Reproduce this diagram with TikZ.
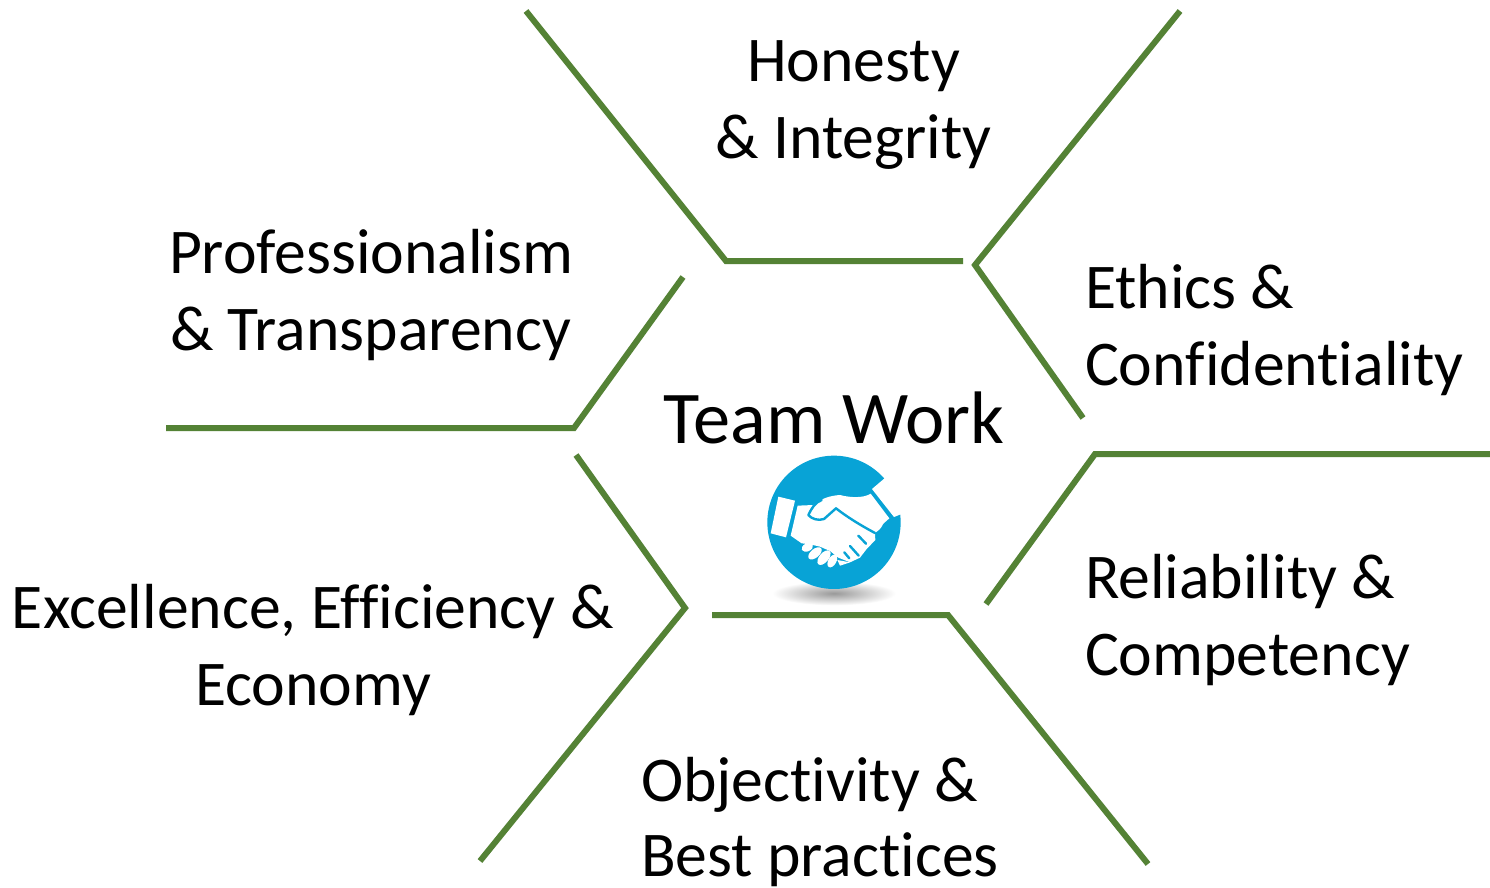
\documentclass[tikz,border=0pt]{standalone}
\usepackage{fontspec}
\setmainfont[Ligatures=NoCommon]{Carlito}
\definecolor{linegreen}{HTML}{548235}
\definecolor{iconblue}{HTML}{08A3D6}
\tikzset{
  spoke/.style={draw=linegreen,line width=6pt,line join=miter},
  lbl/.style={inner sep=0pt,outer sep=0pt,text=black,font=\fontsize{63.7}{77}\selectfont},
  title/.style={inner sep=0pt,outer sep=0pt,text=black,font=\fontsize{74.4}{88}\selectfont},
  handwhite/.style={fill=white,draw=none},
  handline/.style={draw=iconblue,line width=2.4pt,line cap=round,line join=round}
}
\begin{document}
\begin{tikzpicture}[x=1pt,y=-1pt]
\useasboundingbox (0,0) rectangle (1490,887);
\fill[white] (0,0) rectangle (1490,887);
% spokes
\draw[spoke] (526,11) -- (726,261) -- (963,261);
\draw[spoke] (1180,11) -- (975,265) -- (1083,418);
\draw[spoke] (683,277) -- (574,428) -- (166,428);
\draw[spoke] (1490,454) -- (1095,454) -- (986,604);
\draw[spoke] (576,455) -- (685,608) -- (480,861);
\draw[spoke] (712,615) -- (948,615) -- (1148,864);
% labels
\node[lbl,anchor=base] (honesty) at (853.5,81) {Honesty};
\node[lbl,anchor=base] (integrity) at (853.5,158) {\& Integrity};
\node[lbl,anchor=base west] (prof) at (169,273) {Professionalism};
\node[lbl,anchor=base west] (transp) at (170,350) {\& Transparency};
\node[lbl,anchor=base west] (ethics) at (1085,308) {Ethics \&};
\node[lbl,anchor=base west] (conf) at (1085,385) {Confidentiality};
\node[lbl,anchor=base west] (reli) at (1085,598) {Reliability \&};
\node[lbl,anchor=base west] (comp) at (1085,675) {Competency};
\node[lbl,anchor=base west] (obj) at (641,801) {Objectivity \&};
\node[lbl,anchor=base west] (best) at (641,876) {Best practices};
\node[lbl,anchor=base west] (exc) at (12,628) {Excellence, Efficiency \&};
\node[lbl,anchor=base] (econ) at (313,705) {Economy};
\node[title,anchor=base] (team) at (834,443) {Team Work};
% icon
\begin{scope}[shift={(750,445)},x=0.3333pt,y=-0.3333pt]
  \shade[inner color=black!40,outer color=white] (252,445) ellipse (185 and 36);
  \fill[iconblue] (252,232) circle (200);
  % top-right cut behind the cuff
  \fill[white] (366,132) -- (406,98) -- (460,98) -- (460,205) -- (432,216) -- cycle;
  % left cuff
  \fill[handwhite] (85,155) -- (135,167) -- (108,277) -- (62,265) -- cycle;
  % hand
  \fill[handwhite] (143,182) -- (190,180) .. controls (215,160) and (240,152) .. (270,150)
    .. controls (300,158) and (340,160) .. (362,146) -- (418,220) -- (400,236)
    .. controls (392,252) and (385,258) .. (375,264) -- (376,285) -- (350,312)
    -- (330,338) -- (300,352) -- (265,338) -- (240,318) -- (210,305) -- (180,298)
    -- (155,295) -- (122,272) -- cycle;
  % fingers
  \fill[handwhite,shift={(172,307)},rotate=25] (0,0) ellipse (18 and 12);
  \fill[handwhite,shift={(195,325)},rotate=40] (0,0) ellipse (24 and 13);
  \fill[handwhite,shift={(222,338)},rotate=50] (0,0) ellipse (26 and 14);
  \fill[handwhite,shift={(247,348)},rotate=60] (0,0) ellipse (21 and 12);
  \fill[handwhite] (262,345) -- (300,352) -- (270,362) -- cycle;
  % thumb outline
  \draw[handline,fill=white] (258,190) -- (222,222) .. controls (205,228) and (185,222) .. (175,210)
    .. controls (185,190) and (195,172) .. (215,165);
  \draw[handline] (258,190) .. controls (290,215) and (330,240) .. (375,264);
  % finger gaps on the right
  \draw[handline] (283,322) -- (298,340);
  \draw[handline] (300,303) -- (326,332);
  \draw[handline] (325,272) -- (348,296);
\end{scope}
\end{tikzpicture}
\end{document}
